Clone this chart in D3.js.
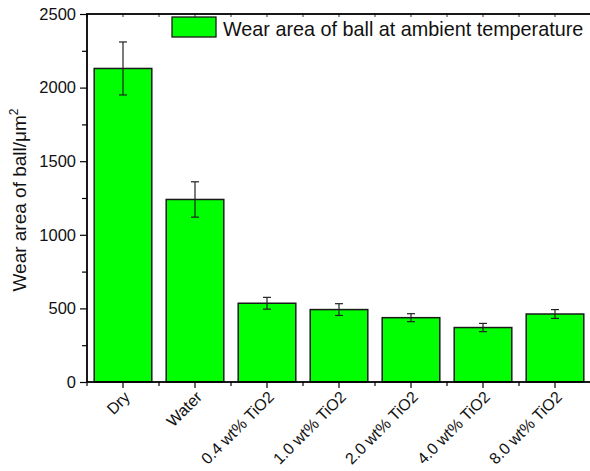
<!DOCTYPE html>
<html>
<head>
<meta charset="utf-8">
<script src="https://cdn.jsdelivr.net/npm/d3@7"></script>
<style>
  html, body { margin: 0; padding: 0; background: #fff; }
  svg { display: block; font-family: Arial, "Liberation Sans", sans-serif; }
</style>
</head>
<body>
<svg id="chart" width="590" height="471"></svg>
<script>
// Wear area of the ball for each lubricating condition
const categories = ["Dry", "Water", "0.4 wt% TiO2", "1.0 wt% TiO2", "2.0 wt% TiO2", "4.0 wt% TiO2", "8.0 wt% TiO2"];
const wearArea = [2130, 1240, 535, 492, 437, 370, 462];
const wearErr = [180, 120, 40, 40, 27, 28, 30];
const yTicks = [0, 500, 1000, 1500, 2000, 2500];
const yMinorTicks = [250, 750, 1250, 1750, 2250];
const legendLabel = "Wear area of ball at ambient temperature";
const yTitle = "Wear area of ball/\u03bcm";

const svg = d3.select("#chart");
const plotL = 87, plotR = 591, plotT = 14, plotB = 382;

const x = d3.scaleBand().domain(categories).range([plotL, plotR])
  .paddingInner(0.2).paddingOuter(0.1);
const y = d3.scaleLinear().domain([0, 2500]).range([plotB, plotT]);

// bars
svg.append("g").selectAll("rect").data(categories).join("rect")
  .attr("x", d => x(d))
  .attr("y", (d, i) => y(wearArea[i]))
  .attr("width", x.bandwidth())
  .attr("height", (d, i) => y(0) - y(wearArea[i]))
  .attr("fill", "#00ff00")
  .attr("stroke", "#1a1a1a")
  .attr("stroke-width", 1.5);

// error bars
const eb = svg.append("g").attr("stroke", "#222").attr("stroke-width", 1.2).attr("fill", "none");
categories.forEach((c, i) => {
  const cx = x(c) + x.bandwidth() / 2;
  const y1 = y(wearArea[i] + wearErr[i]), y2 = y(wearArea[i] - wearErr[i]);
  eb.append("line").attr("x1", cx).attr("x2", cx).attr("y1", y1).attr("y2", y2);
  eb.append("line").attr("x1", cx - 4).attr("x2", cx + 4).attr("y1", y1).attr("y2", y1);
  eb.append("line").attr("x1", cx - 4).attr("x2", cx + 4).attr("y1", y2).attr("y2", y2);
});

// y axis (left)
const yAxis = svg.append("g").attr("transform", `translate(${plotL},0)`)
  .call(d3.axisLeft(y).tickValues(yTicks).tickSize(7).tickPadding(4).tickFormat(d3.format("d")));
yAxis.select(".domain").remove();
yAxis.selectAll(".tick line").attr("stroke", "#000").attr("stroke-width", 1.2);
yAxis.selectAll(".tick text").attr("font-size", 16.5).attr("fill", "#111")
  .attr("font-family", "Arial, 'Liberation Sans', sans-serif");
svg.append("g").attr("transform", `translate(${plotL},0)`)
  .call(d3.axisLeft(y).tickValues(yMinorTicks).tickSize(5).tickFormat(""))
  .call(g => g.select(".domain").remove())
  .selectAll(".tick line").attr("stroke", "#000").attr("stroke-width", 1.2);

// x axis (bottom): major ticks at category centres, minor ticks at boundaries
const xAxis = svg.append("g").attr("transform", `translate(0,${plotB})`)
  .call(d3.axisBottom(x).tickSize(6).tickPadding(0));
xAxis.select(".domain").remove();
xAxis.selectAll(".tick line").attr("stroke", "#000").attr("stroke-width", 1.2);
xAxis.selectAll(".tick text")
  .attr("font-size", 16).attr("fill", "#111")
  .attr("font-family", "Arial, 'Liberation Sans', sans-serif")
  .attr("text-anchor", "end")
  .attr("transform", "translate(8,16) rotate(-45)")
  .attr("dy", 0)
  .attr("y", 0);
const boundaries = d3.range(categories.length + 1).map(i => plotL + i * x.step());
svg.append("g").selectAll("line").data(boundaries).join("line")
  .attr("x1", d => d).attr("x2", d => d)
  .attr("y1", plotB).attr("y2", plotB + 4)
  .attr("stroke", "#000").attr("stroke-width", 1.2);

// top axis: small inward ticks at centres and boundaries
const topTicks = d3.range(categories.length * 2 + 1).map(i => plotL + i * x.step() / 2);
svg.append("g").selectAll("line").data(topTicks).join("line")
  .attr("x1", d => d).attr("x2", d => d)
  .attr("y1", plotT).attr("y2", plotT + 3)
  .attr("stroke", "#333").attr("stroke-width", 1);

// frame
svg.append("rect").attr("x", plotL).attr("y", plotT)
  .attr("width", plotR - plotL).attr("height", plotB - plotT)
  .attr("fill", "none").attr("stroke", "#000").attr("stroke-width", 1.8);

// y title
const yt = svg.append("text")
  .attr("transform", `translate(26,${(plotT + plotB) / 2 + 2}) rotate(-90)`)
  .attr("text-anchor", "middle").attr("font-size", 19).attr("fill", "#111");
yt.append("tspan").text(yTitle);
yt.append("tspan").attr("font-size", 12).attr("dy", -8).text("2");

// legend
svg.append("rect").attr("x", 172).attr("y", 17).attr("width", 44).attr("height", 20)
  .attr("fill", "#00ff00").attr("stroke", "#1a1a1a").attr("stroke-width", 1.3);
svg.append("text").attr("x", 223).attr("y", 36).attr("font-size", 19.8).attr("fill", "#111")
  .text(legendLabel);
</script>
</body>
</html>
